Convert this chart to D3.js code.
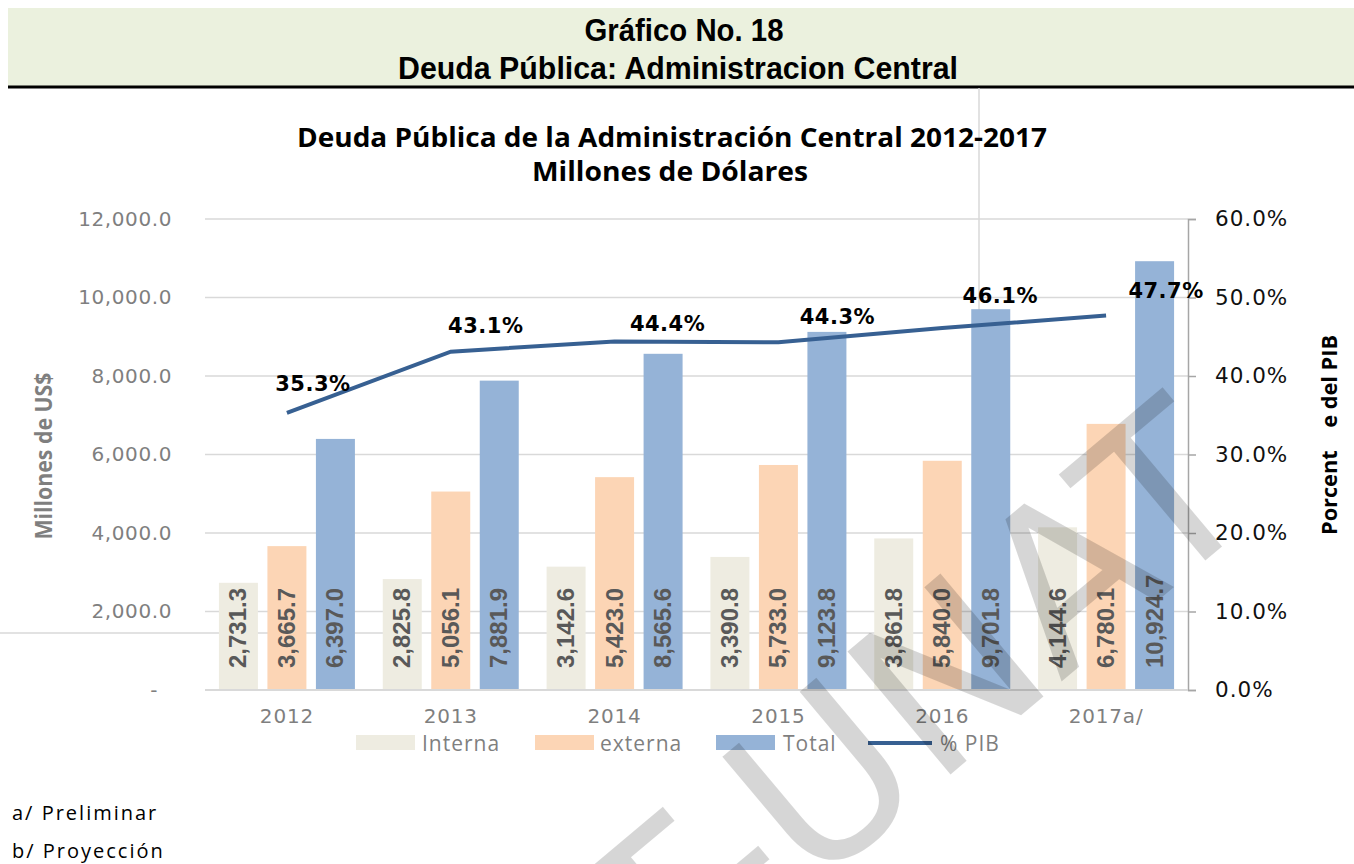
<!DOCTYPE html>
<html>
<head>
<meta charset="utf-8">
<script src="https://cdn.jsdelivr.net/npm/d3@7"></script>
<style>
  body { margin: 0; background: #fff; }
  svg { display: block; }
</style>
</head>
<body>
<div id="chart"></div>
<script>
// data
const years = ['2012', '2013', '2014', '2015', '2016', '2017a/']
const interna = [2731.3, 2825.8, 3142.6, 3390.8, 3861.8, 4144.6]
const externa = [3665.7, 5056.1, 5423.0, 5733.0, 5840.0, 6780.1]
const total = [6397.0, 7881.9, 8565.6, 9123.8, 9701.8, 10924.7]
const pctPib = [35.3, 43.1, 44.4, 44.3, 46.1, 47.7]
const leftTicks = [0, 2000, 4000, 6000, 8000, 10000, 12000]
const rightTicks = [0, 10, 20, 30, 40, 50, 60]

const seriesNames = ['Interna', 'externa', 'Total']
const seriesValues = [interna, externa, total]
const seriesColors = ['#eeece1', '#fcd5b5', '#95b3d7']
const lineColor = '#376092'

// label nudges for the % PIB data labels (as placed in the original)
const pctLabelDx = [26, 35, 53, 59, 58, 60]
const pctLabelDy = [-29, -26, -17, -25, -32, -25]

const width = 1354
const height = 864
const plot = { left: 205, right: 1188, top: 219, bottom: 690 }

const svg = d3.select('#chart').append('svg')
  .attr('width', width)
  .attr('height', height)

// header band
svg.append('rect')
  .attr('x', 8).attr('y', 8).attr('width', width - 8).attr('height', 78)
  .attr('fill', '#ebf1de')
svg.append('line')
  .attr('x1', 8).attr('x2', width).attr('y1', 87).attr('y2', 87)
  .attr('stroke', '#000').attr('stroke-width', 3)

const headerFont = "'Liberation Sans Narrow', 'Arial Narrow', 'Liberation Sans', sans-serif"
svg.append('text')
  .attr('x', 684).attr('y', 41)
  .attr('text-anchor', 'middle')
  .attr('font-family', headerFont).attr('font-weight', 'bold').attr('font-size', 32)
  .attr('textLength', 199).attr('lengthAdjust', 'spacingAndGlyphs')
  .text('Gráfico No. 18')
svg.append('text')
  .attr('x', 678).attr('y', 79)
  .attr('text-anchor', 'middle')
  .attr('font-family', headerFont).attr('font-weight', 'bold').attr('font-size', 32)
  .attr('textLength', 560).attr('lengthAdjust', 'spacingAndGlyphs')
  .text('Deuda Pública: Administracion Central')

// spreadsheet cell borders that show through
svg.append('path')
  .attr('d', 'M0,633H979V88')
  .attr('fill', 'none').attr('stroke', '#d9d9d9').attr('stroke-width', 1.5)

// chart title
const titleFont = "'Open Sans', sans-serif"
svg.append('text')
  .attr('x', 672).attr('y', 147)
  .attr('text-anchor', 'middle')
  .attr('font-family', titleFont).attr('font-weight', 'bold').attr('font-size', 26)
  .attr('textLength', 750).attr('lengthAdjust', 'spacingAndGlyphs')
  .text('Deuda Pública de la Administración Central 2012-2017')
svg.append('text')
  .attr('x', 670).attr('y', 181)
  .attr('text-anchor', 'middle')
  .attr('font-family', titleFont).attr('font-weight', 'bold').attr('font-size', 26)
  .attr('textLength', 276).attr('lengthAdjust', 'spacingAndGlyphs')
  .text('Millones de Dólares')

// scales
const x = d3.scaleBand().domain(years).range([plot.left, plot.right])
const xs = d3.scaleBand().domain(seriesNames).range([0, x.bandwidth()])
  .paddingInner(0.196).paddingOuter(0.287)
const y = d3.scaleLinear().domain([0, 12000]).range([plot.bottom, plot.top])
const y2 = d3.scaleLinear().domain([0, 60]).range([plot.bottom, plot.top])

// gridlines
svg.append('g')
  .selectAll('line')
  .data(leftTicks)
  .join('line')
  .attr('x1', plot.left).attr('x2', plot.right)
  .attr('y1', d => y(d)).attr('y2', d => y(d))
  .attr('stroke', '#d9d9d9').attr('stroke-width', 1.5)

// left axis
const tickFont = "'DejaVu Sans', Verdana, sans-serif"
const leftAxis = svg.append('g')
  .attr('transform', `translate(${plot.left},0)`)
  .call(d3.axisLeft(y).tickValues(leftTicks).tickSize(0).tickPadding(33)
    .tickFormat(d => (d === 0 ? '-' : d3.format(',.1f')(d))))
leftAxis.select('.domain').remove()
leftAxis.selectAll('text')
  .attr('font-family', tickFont).attr('font-size', 20)
  .attr('letter-spacing', 0.6)
  .attr('fill', '#7f7f7f')
leftAxis.selectAll('.tick').filter(d => d === 0).select('text').attr('dx', -14)

// right axis
const rightAxis = svg.append('g')
  .attr('transform', `translate(${plot.right},0)`)
  .call(d3.axisRight(y2).tickValues(rightTicks).tickSize(8).tickPadding(19)
    .tickFormat(d => d3.format('.1f')(d) + '%'))
rightAxis.select('.domain').attr('stroke', '#a6a6a6').attr('stroke-width', 1.5)
rightAxis.selectAll('.tick line').attr('stroke', '#a6a6a6').attr('stroke-width', 1.5)
rightAxis.selectAll('text')
  .attr('font-family', tickFont).attr('font-size', 21.5)
  .attr('letter-spacing', 1)
  .attr('fill', '#111')

// bars
const groups = svg.append('g')
  .selectAll('g')
  .data(years)
  .join('g')
  .attr('transform', d => `translate(${x(d)},0)`)

groups.selectAll('rect')
  .data((d, i) => seriesNames.map((s, k) => ({ s, k, v: seriesValues[k][i] })))
  .join('rect')
  .attr('x', d => xs(d.s))
  .attr('width', xs.bandwidth())
  .attr('y', d => y(d.v))
  .attr('height', d => y(0) - y(d.v))
  .attr('fill', d => seriesColors[d.k])

// bar value labels, rotated
groups.selectAll('text.val')
  .data((d, i) => seriesNames.map((s, k) => ({ s, k, v: seriesValues[k][i] })))
  .join('text')
  .attr('class', 'val')
  .attr('transform', d => `translate(${xs(d.s) + xs.bandwidth() / 2 + 8},${plot.bottom - 22}) rotate(-90)`)
  .attr('font-family', headerFont).attr('font-weight', 'bold').attr('font-size', 24)
  .attr('fill', '#595959')
  .text(d => d3.format(',.1f')(d.v))

// x axis line
svg.append('line')
  .attr('x1', plot.left).attr('x2', plot.right)
  .attr('y1', plot.bottom).attr('y2', plot.bottom)
  .attr('stroke', '#d9d9d9').attr('stroke-width', 2)

const bottomAxis = svg.append('g')
  .attr('transform', `translate(0,${plot.bottom})`)
  .call(d3.axisBottom(x).tickSize(0).tickPadding(19))
bottomAxis.select('.domain').remove()
bottomAxis.selectAll('text')
  .attr('font-family', tickFont).attr('font-size', 20)
  .attr('letter-spacing', 0.8)
  .attr('fill', '#7f7f7f')

// % PIB line
const line = d3.line()
  .x((d, i) => x(years[i]) + x.bandwidth() / 2)
  .y(d => y2(d))
svg.append('path')
  .datum(pctPib)
  .attr('d', line)
  .attr('fill', 'none')
  .attr('stroke', lineColor).attr('stroke-width', 4)

svg.append('g')
  .selectAll('text')
  .data(pctPib)
  .join('text')
  .attr('x', (d, i) => x(years[i]) + x.bandwidth() / 2 + pctLabelDx[i])
  .attr('y', (d, i) => y2(d) + pctLabelDy[i])
  .attr('text-anchor', 'middle').attr('dominant-baseline', 'central')
  .attr('font-family', tickFont).attr('font-weight', 'bold').attr('font-size', 21)
  .attr('letter-spacing', 0.5)
  .attr('fill', '#000')
  .text(d => d.toFixed(1) + '%')

// axis titles
svg.append('text')
  .attr('transform', 'translate(52,456) rotate(-90)')
  .attr('text-anchor', 'middle')
  .attr('font-family', titleFont).attr('font-weight', 'bold').attr('font-size', 23)
  .attr('textLength', 167).attr('lengthAdjust', 'spacingAndGlyphs')
  .attr('fill', '#7f7f7f')
  .text('Millones de US$')
svg.append('text')
  .attr('transform', 'translate(1337,435) rotate(-90)')
  .attr('text-anchor', 'middle')
  .attr('font-family', titleFont).attr('font-weight', 'bold').attr('font-size', 22)
  .attr('textLength', 200).attr('lengthAdjust', 'spacingAndGlyphs')
  .attr('fill', '#000')
  .attr('xml:space', 'preserve')
  .text('Porcent    e del PIB')

// legend
const legendItems = [
  { name: 'Interna', color: seriesColors[0], x: 356, tx: 422 },
  { name: 'externa', color: seriesColors[1], x: 535, tx: 600 },
  { name: 'Total', color: seriesColors[2], x: 716, tx: 783 }
]
const legend = svg.append('g')
legend.selectAll('rect')
  .data(legendItems)
  .join('rect')
  .attr('x', d => d.x).attr('y', 735)
  .attr('width', 59).attr('height', 15)
  .attr('fill', d => d.color)
legend.selectAll('text')
  .data(legendItems.concat([{ name: '% PIB', tx: 940 }]))
  .join('text')
  .attr('x', d => d.tx).attr('y', 751)
  .attr('font-family', titleFont).attr('font-size', 21)
  .attr('letter-spacing', 1)
  .attr('fill', '#7f7f7f')
  .text(d => d.name)
legend.append('line')
  .attr('x1', 868).attr('x2', 932).attr('y1', 743).attr('y2', 743)
  .attr('stroke', lineColor).attr('stroke-width', 4)

// footnotes
svg.append('text')
  .attr('x', 12).attr('y', 820)
  .attr('font-family', titleFont).attr('font-size', 20).attr('letter-spacing', 2)
  .text('a/ Preliminar')
svg.append('text')
  .attr('x', 12).attr('y', 858)
  .attr('font-family', titleFont).attr('font-size', 20).attr('letter-spacing', 2)
  .text('b/ Proyección')

// watermark
svg.append('text')
  .attr('transform', 'translate(915,705) rotate(-40)')
  .attr('text-anchor', 'middle').attr('dominant-baseline', 'central')
  .attr('font-family', "'DejaVu Sans', sans-serif").attr('font-size', 220)
  .attr('fill', '#000').attr('fill-opacity', 0.16)
  .text('T-UNAT')
</script>
</body>
</html>
